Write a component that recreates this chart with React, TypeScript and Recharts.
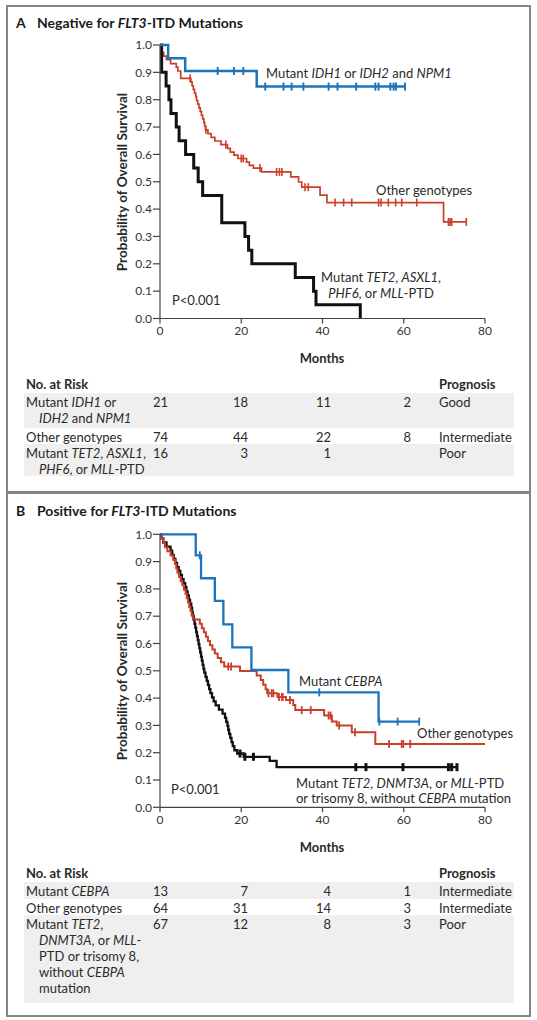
import React from "react";
import { LineChart, Line, XAxis, YAxis } from "recharts";

// ---------- Data ----------
// Panel A: negative for FLT3-ITD
const blueA_steps: [number, number][] = [[0, 1], [2.0, 0.952], [6.2, 0.905], [23.8, 0.848]];
const blueA_censor = [14.2, 18.2, 20.5, 25.9, 30.4, 32.4, 35.3, 41.5, 43.7, 48.3, 53.0, 53.8, 56.7, 57.5, 58.1, 60.3];

const redA_steps: [number, number][] = [
  [0, 1.0], [0.5, 0.973], [0.9, 0.959], [1.6, 0.946], [2.6, 0.932], [4.0, 0.919], [4.4, 0.905], [5.1, 0.878],
  [7.6, 0.865], [7.9, 0.851], [8.2, 0.838], [8.5, 0.824], [8.8, 0.811], [9.0, 0.797], [9.3, 0.784], [9.6, 0.77],
  [9.9, 0.757], [10.2, 0.743], [10.5, 0.73], [10.8, 0.716], [11.0, 0.703], [11.2, 0.69], [11.8, 0.676], [12.6, 0.662],
  [13.5, 0.649], [15.0, 0.636], [16.6, 0.622], [17.3, 0.608], [18.2, 0.597], [19.2, 0.585], [21.3, 0.572], [22.0, 0.56],
  [23.0, 0.55], [25.0, 0.536], [32.2, 0.518], [34.1, 0.499], [34.9, 0.48], [39.4, 0.451], [41.1, 0.424], [69.8, 0.353],
];
const redA_censor = [7.4, 11.3, 16.2, 20.0, 20.5, 24.6, 28.7, 29.4, 30.0, 35.7, 36.5, 43.1, 45.2, 47.2, 53.8, 54.4, 56.2, 58.0, 59.5, 63.2, 71.0, 71.4, 71.8, 75.4];

const blackA_steps: [number, number][] = [
  [0, 1.0], [0.4, 0.9], [1.5, 0.85], [2.2, 0.8], [2.7, 0.75], [4.0, 0.7], [4.7, 0.65], [6.3, 0.6], [8.3, 0.55],
  [9.4, 0.5], [10.5, 0.45], [15.2, 0.35], [20.9, 0.3], [21.8, 0.25], [22.6, 0.2], [33.3, 0.15], [37.8, 0.1],
  [38.4, 0.05], [49.3, 0.0],
];
const blackA_censor: number[] = [];

// Panel B: positive for FLT3-ITD
const blueB_steps: [number, number][] = [
  [0, 1], [8.8, 0.923], [10.1, 0.839], [13.5, 0.756], [15.6, 0.67], [17.8, 0.586], [22.5, 0.503], [31.6, 0.421], [53.8, 0.314],
];
const blueB_censor = [9.8, 39.2, 54.0, 58.5, 63.8];

const redB_steps: [number, number][] = [
  [0, 1.0], [0.4, 0.984], [0.8, 0.969], [1.2, 0.953], [1.8, 0.938], [2.6, 0.922], [3.3, 0.906], [3.7, 0.891],
  [4.0, 0.875], [4.3, 0.859], [4.7, 0.844], [5.1, 0.828], [5.5, 0.813], [5.9, 0.797], [6.3, 0.781], [6.6, 0.766],
  [6.9, 0.75], [7.2, 0.734], [7.5, 0.719], [7.8, 0.703], [8.1, 0.688], [9.8, 0.672], [10.3, 0.656], [10.8, 0.641],
  [11.3, 0.625], [11.8, 0.609], [12.3, 0.594], [12.9, 0.578], [13.5, 0.563], [14.2, 0.547], [15.0, 0.531], [15.8, 0.516],
  [19.7, 0.499], [23.8, 0.483], [24.8, 0.466], [25.4, 0.449], [26.0, 0.432], [26.4, 0.418], [28.9, 0.404], [31.0, 0.393],
  [32.8, 0.375], [33.3, 0.356], [40.4, 0.336], [42.3, 0.314], [43.5, 0.3], [47.2, 0.275], [53.0, 0.232],
];
const redB_censor = [16.8, 17.5, 26.7, 27.5, 27.9, 29.3, 30.0, 30.2, 32.0, 34.9, 37.1, 41.5, 42.0, 44.1, 48.0, 56.4, 59.5, 59.9, 61.6, 84.2];

const blackB_steps: [number, number][] = [
  [0, 1.0], [0.4, 0.985], [0.8, 0.97], [1.6, 0.955], [2.6, 0.94], [3.0, 0.925], [3.4, 0.91], [3.8, 0.895], [4.2, 0.88],
  [4.6, 0.866], [5.0, 0.851], [5.4, 0.836], [5.8, 0.821], [6.2, 0.806], [6.5, 0.791], [6.8, 0.776], [7.1, 0.761],
  [7.4, 0.746], [7.7, 0.731], [7.9, 0.716], [8.1, 0.701], [8.3, 0.687], [8.5, 0.672], [8.7, 0.657], [8.9, 0.642],
  [9.1, 0.627], [9.3, 0.612], [9.5, 0.597], [9.7, 0.582], [9.9, 0.567], [10.1, 0.552], [10.3, 0.537], [10.5, 0.522],
  [10.7, 0.507], [10.9, 0.493], [11.2, 0.478], [11.5, 0.463], [11.8, 0.448], [12.1, 0.433], [12.4, 0.418], [12.8, 0.403],
  [13.2, 0.388], [13.7, 0.373], [14.5, 0.358], [15.4, 0.343], [16.0, 0.328], [16.3, 0.313], [16.6, 0.298], [16.8, 0.284],
  [17.0, 0.269], [17.3, 0.254], [17.6, 0.239], [17.9, 0.224], [18.3, 0.209], [19.0, 0.197], [20.6, 0.185], [27.0, 0.17],
  [28.7, 0.147],
];
const blackB_censor = [19.7, 20.9, 23.0, 48.2, 50.7, 59.8, 71.0, 71.8, 73.1];

// Axis ticks
const xTicks = [0, 20, 40, 60, 80];
const yTicks = [0, 0.1, 0.2, 0.3, 0.4, 0.5, 0.6, 0.7, 0.8, 0.9, 1.0];

// Numbers at risk (months 0, 20, 40, 60)
const riskA_good = ["21", "18", "11", "2"];
const riskA_other = ["74", "44", "22", "8"];
const riskA_poor = ["16", "3", "1", ""];
const riskB_cebpa = ["13", "7", "4", "1"];
const riskB_other = ["64", "31", "14", "3"];
const riskB_poor = ["67", "12", "8", "3"];

// ---------- Styling ----------
const FONT = "Lato, 'Open Sans', Arial, sans-serif";
const BLUE = "#1c74bc";
const RED = "#c9402a";
const BLACK = "#111111";
const TEXT = "#2a2a2a";

type Pt = { t: number; s: number; c: boolean };

function build(steps: [number, number][], censors: number[]): Pt[] {
  const pts: Pt[] = steps.map(([t, s]) => ({ t, s, c: false }));
  censors.forEach((t) => {
    let s = steps[0][1];
    for (const [st, sv] of steps) if (st <= t) s = sv;
    pts.push({ t, s, c: true });
  });
  pts.sort((a, b) => a.t - b.t || (a.c ? 1 : 0) - (b.c ? 1 : 0));
  return pts;
}

const censorDot = (color: string, h: number, w: number) => (props: any) => {
  const { cx, cy, payload, index } = props;
  if (!payload || !payload.c || cx == null || cy == null) return <g key={`d${index}`} />;
  return (
    <line key={`d${index}`} x1={cx} x2={cx} y1={cy - h / 2} y2={cy + h / 2} stroke={color} strokeWidth={w} />
  );
};

const tickStyle = { fontSize: 12, fill: "#333", fontFamily: FONT };

function KMChart(props: {
  top: number;
  marginTop: number;
  marginBottom: number;
  series: { data: Pt[]; color: string; width: number; ch: number; cw: number }[];
}) {
  return (
    <div style={{ position: "absolute", left: 0, top: props.top }}>
      <LineChart
        width={537}
        height={360}
        margin={{ top: props.marginTop, right: 52, bottom: props.marginBottom, left: 100 }}
      >
        <XAxis
          type="number"
          dataKey="t"
          domain={[0, 80]}
          ticks={xTicks}
          allowDataOverflow
          height={30}
          tickSize={5}
          tickMargin={3}
          tick={tickStyle}
          axisLine={{ stroke: "#444", strokeWidth: 1.2 }}
          tickLine={{ stroke: "#444", strokeWidth: 1.2 }}
        />
        <YAxis
          type="number"
          domain={[0, 1]}
          ticks={yTicks}
          width={60}
          tickSize={7}
          tickMargin={1}
          tickFormatter={(v: number) => v.toFixed(1)}
          tick={tickStyle}
          axisLine={{ stroke: "#444", strokeWidth: 1.2 }}
          tickLine={{ stroke: "#444", strokeWidth: 1.2 }}
        />
        {props.series.map((s, i) => (
          <Line
            key={i}
            data={s.data}
            dataKey="s"
            type="stepAfter"
            stroke={s.color}
            strokeWidth={s.width}
            dot={censorDot(s.color, s.ch, s.cw)}
            activeDot={false}
            isAnimationActive={false}
          />
        ))}
      </LineChart>
    </div>
  );
}

const abs = (left: number, top: number, extra: React.CSSProperties = {}): React.CSSProperties => ({
  position: "absolute",
  left,
  top,
  whiteSpace: "nowrap",
  ...extra,
});

type Row = { lines: React.ReactNode[]; nums: string[]; prog: string; shaded: boolean; top: number; height: number };

const numRight = [168, 248, 331, 411];

function RiskTable(props: { headerTop: number; rows: Row[] }) {
  return (
    <>
      <div style={abs(26, props.headerTop, { fontWeight: 700, fontSize: 13, lineHeight: "16px", color: TEXT })}>No. at Risk</div>
      <div style={abs(439, props.headerTop, { fontWeight: 700, fontSize: 13, lineHeight: "16px", color: TEXT })}>Prognosis</div>
      {props.rows.map((r, i) => (
        <div
          key={i}
          style={{
            position: "absolute",
            left: 24,
            top: r.top,
            width: 490,
            height: r.height,
            background: r.shaded ? "#efefef" : "transparent",
          }}
        >
          {r.lines.map((ln, j) => (
            <div key={j} style={abs(j === 0 ? 2 : 15, 1 + j * 16, { fontSize: 13, lineHeight: "16px", color: TEXT })}>
              {ln}
            </div>
          ))}
          {r.nums.map((n, j) => (
            <div
              key={"n" + j}
              style={abs(numRight[j] - 24 - 40, 1, { width: 40, textAlign: "right", fontSize: 13, lineHeight: "16px", color: TEXT })}
            >
              {n}
            </div>
          ))}
          <div style={abs(439 - 24, 1, { fontSize: 13, lineHeight: "16px", color: TEXT })}>{r.prog}</div>
        </div>
      ))}
    </>
  );
}

const note = (left: number, top: number, extra: React.CSSProperties = {}): React.CSSProperties =>
  abs(left, top, { fontSize: 13, lineHeight: "16px", color: TEXT, ...extra });

export default function App() {
  const A = [
    { data: build(redA_steps, redA_censor), color: RED, width: 1.7, ch: 8, cw: 1.6 },
    { data: build(blackA_steps, blackA_censor), color: BLACK, width: 3, ch: 8, cw: 2 },
    { data: build(blueA_steps, blueA_censor), color: BLUE, width: 2.5, ch: 8, cw: 2 },
  ];
  const B = [
    { data: build(blackB_steps, blackB_censor), color: BLACK, width: 2.3, ch: 8, cw: 3 },
    { data: build(redB_steps, redB_censor), color: RED, width: 2, ch: 8, cw: 1.8 },
    { data: build(blueB_steps, blueB_censor), color: BLUE, width: 2.3, ch: 8, cw: 1.8 },
  ];

  const title: React.CSSProperties = { fontWeight: 700, fontSize: 14, lineHeight: "18px", color: "#1a1a1a" };
  const ylab = (cy: number): React.CSSProperties => ({
    position: "absolute",
    left: 122 - 130,
    top: cy - 9,
    width: 260,
    height: 18,
    lineHeight: "18px",
    textAlign: "center",
    transform: "rotate(-90deg)",
    fontWeight: 700,
    fontSize: 13.5,
    color: TEXT,
    whiteSpace: "nowrap",
  });
  const months = (cy: number): React.CSSProperties => ({
    position: "absolute",
    left: 222,
    top: cy - 8,
    width: 200,
    textAlign: "center",
    fontWeight: 700,
    fontSize: 13,
    lineHeight: "16px",
    color: TEXT,
  });

  return (
    <div
      style={{
        position: "absolute",
        left: 0,
        top: 0,
        width: 537,
        height: 1020,
        background: "#fff",
        overflow: "hidden",
        fontFamily: FONT,
      }}
    >
      {/* panel boxes */}
      <div style={{ position: "absolute", left: 6, top: 5, width: 525, height: 488, border: "2px solid #858585", boxSizing: "border-box" }} />
      <div style={{ position: "absolute", left: 6, top: 492, width: 525, height: 525, border: "2px solid #858585", boxSizing: "border-box" }} />

      {/* Panel A */}
      <div style={abs(16, 14, title)}>A</div>
      <div style={abs(37, 14, title)}>
        Negative for <i>FLT3</i>-ITD Mutations
      </div>
      <KMChart top={0} marginTop={45} marginBottom={11.5} series={A} />
      <div style={ylab(181.5)}>Probability of Overall Survival</div>
      <div style={months(357.5)}>Months</div>
      <div style={note(266, 65)}>
        Mutant <i>IDH1</i> or <i>IDH2</i> and <i>NPM1</i>
      </div>
      <div style={note(376, 182)}>Other genotypes</div>
      <div style={note(281, 269, { width: 200, textAlign: "center" })}>
        Mutant <i>TET2</i>, <i>ASXL1</i>,
        <br />
        <i>PHF6</i>, or <i>MLL</i>-PTD
      </div>
      <div style={note(172, 292)}>P&lt;0.001</div>
      <RiskTable
        headerTop={375.5}
        rows={[
          { lines: [<>Mutant <i>IDH1</i> or</>, <><i>IDH2</i> and <i>NPM1</i></>], nums: riskA_good, prog: "Good", shaded: true, top: 393, height: 35 },
          { lines: ["Other genotypes"], nums: riskA_other, prog: "Intermediate", shaded: false, top: 428, height: 16 },
          { lines: [<>Mutant <i>TET2</i>, <i>ASXL1</i>,</>, <><i>PHF6</i>, or <i>MLL</i>-PTD</>], nums: riskA_poor, prog: "Poor", shaded: true, top: 444, height: 32 },
        ]}
      />

      {/* Panel B */}
      <div style={abs(16, 502, title)}>B</div>
      <div style={abs(37, 502, title)}>
        Positive for <i>FLT3</i>-ITD Mutations
      </div>
      <KMChart top={490} marginTop={44.3} marginBottom={12.7} series={B} />
      <div style={ylab(671)}>Probability of Overall Survival</div>
      <div style={months(846.5)}>Months</div>
      <div style={note(299, 673)}>
        Mutant <i>CEBPA</i>
      </div>
      <div style={note(417, 725)}>Other genotypes</div>
      <div style={note(296, 776, { width: 200, textAlign: "center", lineHeight: "15px" })}>
        Mutant <i>TET2</i>, <i>DNMT3A</i>, or <i>MLL</i>-PTD
        <br />
        or trisomy 8, without <i>CEBPA</i> mutation
      </div>
      <div style={note(171, 781)}>P&lt;0.001</div>
      <RiskTable
        headerTop={865}
        rows={[
          { lines: [<>Mutant <i>CEBPA</i></>], nums: riskB_cebpa, prog: "Intermediate", shaded: true, top: 882, height: 17 },
          { lines: ["Other genotypes"], nums: riskB_other, prog: "Intermediate", shaded: false, top: 899, height: 16 },
          {
            lines: [
              <>Mutant <i>TET2</i>,</>,
              <><i>DNMT3A</i>, or <i>MLL</i>-</>,
              "PTD or trisomy 8,",
              <>without <i>CEBPA</i></>,
              "mutation",
            ],
            nums: riskB_poor,
            prog: "Poor",
            shaded: true,
            top: 915,
            height: 88,
          },
        ]}
      />
    </div>
  );
}
